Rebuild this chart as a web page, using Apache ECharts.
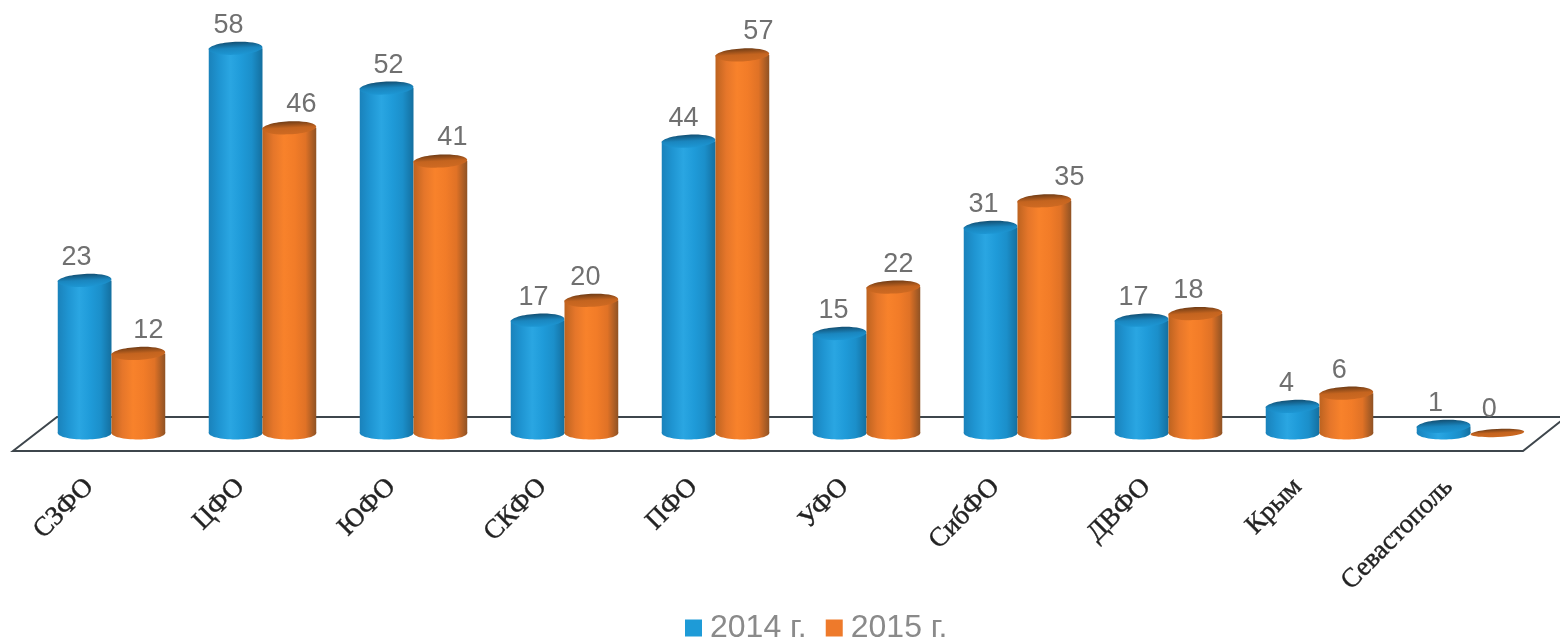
<!DOCTYPE html>
<html><head><meta charset="utf-8">
<style>html,body{margin:0;padding:0;background:#fff}#c{width:1560px;height:639px;filter:blur(0.6px)}</style>
<script src="https://cdn.jsdelivr.net/npm/echarts@6/dist/echarts.min.js"></script>
</head><body><div id="c"></div>
<script>
const categories = ['СЗФО','ЦФО','ЮФО','СКФО','ПФО','УФО','СибФО','ДВФО','Крым','Севастополь'];
const values2014 = [23,58,52,17,44,15,31,17,4,1];
const values2015 = [12,46,41,20,57,22,35,18,6,0];
// horizontal nudges of the value labels, as drawn in the reference
const labelShift2014 = [-8,-7,2,-4,-5,-6,-7,-8,-6,-8];
const labelShift2015 = [10,12,12,-6,16,5,25,-7,-7,-8];

const blue = {side:['#1a82bb','#1f95d2','#2aa6e2','#1f9bd9','#1b8fca','#146f9f'],
              cap:['#134f72','#1a86bf','#1d97d4'], name:'2014 г.', legend:'#1e9bd7'};
const orange = {side:['#bd6320','#e5762a','#f8822b','#f27c28','#e07226','#8f5224'],
                cap:['#6f3c16','#c4641f','#cf6a22'], name:'2015 г.', legend:'#ee7a2b'};

function lin(cols, horiz){
  return new echarts.graphic.LinearGradient(0,0,horiz?1:0,horiz?0:1,
    cols.map((c,i)=>({offset:i/(cols.length-1),color:c})));
}
function makeSeries(values, shifts, pal, side){
  return {
    type:'custom', name:pal.name, itemStyle:{color:pal.legend}, clip:false,
    encode:{x:0,y:1},
    data:values.map((v,i)=>[categories[i],v]),
    renderItem(params, api){
      const i = params.dataIndex, v = api.value(1);
      const top = api.coord([i,v]), base = api.coord([i,0]);
      const band = api.size([1,0])[0], w = band*0.356;
      const cx = top[0] + side*w/2, rx = w/2, ry = 6.5;
      const tilt = 0.05;
      const kids = [];
      if (v>0) {
        kids.push({type:'ellipse',shape:{cx,cy:base[1],rx,ry},style:{fill:lin(pal.side,true)}});
        kids.push({type:'rect',shape:{x:cx-rx,y:top[1],width:w,height:base[1]-top[1]},style:{fill:lin(pal.side,true)}});
      }
      kids.push({type:'ellipse',shape:{cx,cy:top[1],rx,ry:v>0?ry:4},rotation:tilt,originX:cx,originY:top[1],
        style:{fill:lin(pal.cap,false)}});
      kids.push({type:'text',style:{text:String(v),x:cx+shifts[i],y:top[1]-23,align:'center',verticalAlign:'middle',
        fill:'#707070',font:'27px "Liberation Sans"'}});
      return {type:'group',children:kids};
    }
  };
}
const chart = echarts.init(document.getElementById('c'));
chart.setOption({
  animation:false, backgroundColor:'#fff',
  grid:{left:36,width:1510,top:35,height:398},
  xAxis:{type:'category',data:categories,axisLine:{show:false},axisTick:{show:false},
    axisLabel:{interval:0,rotate:45,margin:28,padding:[0,31,0,0],color:'#222',fontFamily:'Liberation Serif',fontSize:27,
      textBorderColor:'#444',textBorderWidth:0.5}},
  yAxis:{type:'value',min:0,max:60,show:false},
  legend:{left:680,top:607,icon:'rect',itemWidth:17,itemHeight:17,itemGap:19,
    textStyle:{color:'#8a8a8a',fontFamily:'Liberation Sans',fontSize:32,padding:[0,0,0,3]}},
  graphic:[{type:'polygon',silent:true,z:0,shape:{points:[[13,451],[57,417],[1566,417],[1523,451]]},
    style:{fill:'#fff',stroke:'#3e464c',lineWidth:2}}],
  series:[makeSeries(values2014,labelShift2014,blue,-1),makeSeries(values2015,labelShift2015,orange,1)]
});
</script></body></html>
